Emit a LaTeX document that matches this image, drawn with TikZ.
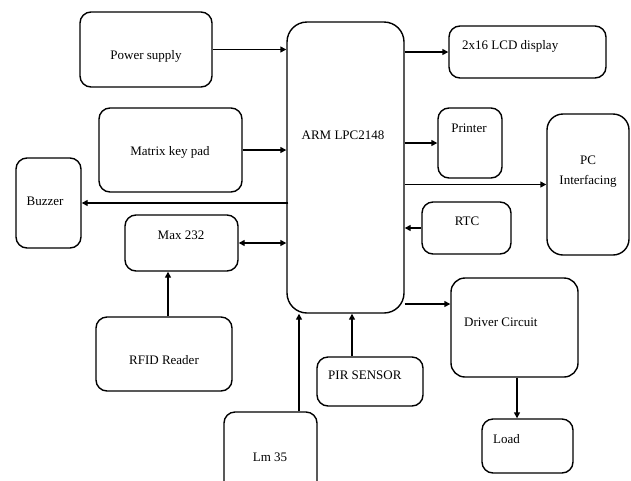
\documentclass[tikz,border=0pt]{standalone}
\usepackage{fontspec}
\setmainfont{Liberation Serif}
\usetikzlibrary{arrows.meta}
\begin{document}
\begin{tikzpicture}[x=1pt,y=-1pt,
  box/.style={draw,line width=1.4pt,rounded corners=11pt,inner sep=0pt},
  lbl/.style={inner sep=0pt,font=\fontsize{13}{15}\selectfont},
  arr/.style={line width=1.4pt,-{Triangle[length=6pt,width=6pt]}},
  darr/.style={line width=1.4pt,{Triangle[length=6pt,width=6pt]}-{Triangle[length=6pt,width=6pt]}}]
\useasboundingbox (0,0) rectangle (631,480);
\clip (0,0) rectangle (631,480);
% boxes
\node[box,minimum width=132pt,minimum height=75pt] (power) at (146,49.5) {};
\node[box,minimum width=143pt,minimum height=84pt] (matrix) at (170.5,150) {};
\node[box,minimum width=65pt,minimum height=90pt] (buzzer) at (48.5,203) {};
\node[box,minimum width=113pt,minimum height=56pt] (max) at (181.5,243) {};
\node[box,minimum width=136pt,minimum height=74pt] (rfid) at (164,354) {};
\node[box,minimum width=93pt,minimum height=88pt] (lm) at (270.5,456) {};
\node[box,minimum width=117pt,minimum height=291pt,rounded corners=20pt] (arm) at (345.5,167.5) {};
\node[box,minimum width=157pt,minimum height=52pt] (lcd) at (527.5,52) {};
\node[box,minimum width=64pt,minimum height=70pt] (printer) at (470,143) {};
\node[box,minimum width=82pt,minimum height=141pt,rounded corners=16pt] (pc) at (588,184.5) {};
\node[box,minimum width=89pt,minimum height=52pt] (rtc) at (466.5,228) {};
\node[box,minimum width=127pt,minimum height=99pt,rounded corners=14pt] (driver) at (514.5,327.5) {};
\node[box,minimum width=106pt,minimum height=49pt] (pir) at (370,381.5) {};
\node[box,minimum width=91pt,minimum height=54pt] (load) at (527.5,446) {};
% texts
\node[lbl] (tpower) at (146,56) {Power supply};
\node[lbl] (tmatrix) at (170,152) {Matrix key pad};
\node[lbl] (tbuzzer) at (45,201) {Buzzer};
\node[lbl] (tmax) at (181,235) {Max 232};
\node[lbl] (trfid) at (164,360) {RFID Reader};
\node[lbl] (tlm) at (270,457) {Lm 35};
\node[lbl] (tarm) at (343,135) {ARM LPC2148};
\node[lbl,anchor=west] (tlcd) at (462,46) {2x16 LCD display};
\node[lbl] (tprinter) at (469,128) {Printer};
\node[lbl] (tpc1) at (588,160) {PC};
\node[lbl] (tpc2) at (588,181) {Interfacing};
\node[lbl] (trtc) at (467,221) {RTC};
\node[lbl,anchor=west] (tdriver) at (464,322) {Driver Circuit};
\node[lbl,anchor=west] (tpir) at (328,375) {PIR SENSOR};
\node[lbl,anchor=west] (tload) at (493,439) {Load};
% connectors
\draw[arr] (power.east) -- (power.east -| arm.west);
\draw[arr] (matrix.east) -- (matrix.east -| arm.west);
\draw[arr] ([xshift=2pt]buzzer.east -| arm.west) -- (buzzer.east);
\draw[darr] (max.east) -- (max.east -| arm.west);
\draw[arr] ([xshift=4pt]rfid.north) -- ([xshift=4pt]rfid.north |- max.south);
\draw[arr] ([xshift=28.5pt]lm.north) -- ([xshift=28.5pt]lm.north |- arm.south);
\draw[arr] ([xshift=-18pt]pir.north) -- ([xshift=-18pt]pir.north |- arm.south);
\draw[arr] (lcd.west -| arm.east) -- (lcd.west);
\draw[arr] (printer.west -| arm.east) -- (printer.west);
\draw[arr] (pc.west -| arm.east) -- (pc.west);
\draw[arr] (rtc.west) -- (rtc.west -| arm.east);
\draw[arr] ([yshift=23.5pt]driver.west -| arm.east) -- ([yshift=23.5pt]driver.west);
\draw[arr] ([xshift=2.5pt]driver.south) -- ([xshift=2.5pt]driver.south |- load.north);
\end{tikzpicture}
\end{document}
